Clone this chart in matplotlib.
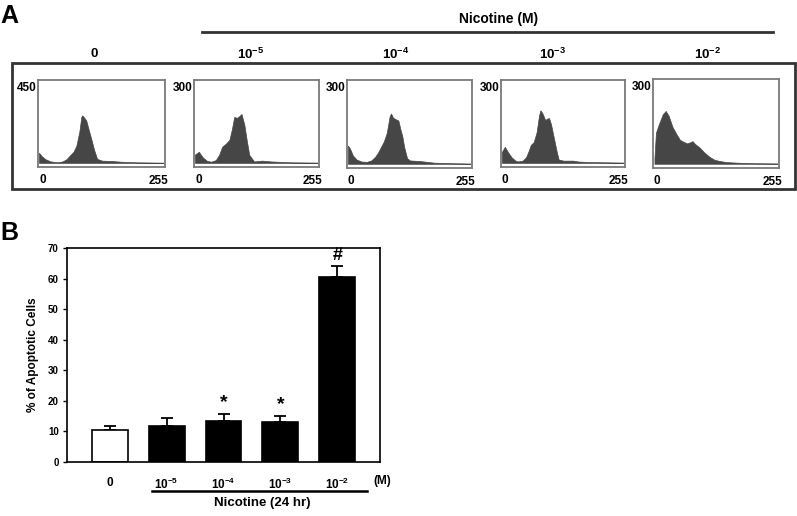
import matplotlib
matplotlib.use('Agg')
import matplotlib.pyplot as plt
from matplotlib.patches import Rectangle
from matplotlib.lines import Line2D

plt.rcParams['font.family'] = ['Liberation Sans', 'DejaVu Sans']
plt.rcParams['font.weight'] = 'bold'
plt.rcParams['axes.labelweight'] = 'bold'
plt.rcParams['mathtext.fontset'] = 'custom'
plt.rcParams['mathtext.rm'] = 'Liberation Sans:bold'
plt.rcParams['mathtext.bf'] = 'Liberation Sans:bold'
plt.rcParams['mathtext.default'] = 'bf'

# panel A: flow cytometry histograms (channel, count)
col_labels = ['0', '10$^{-5}$', '10$^{-4}$', '10$^{-3}$', '10$^{-2}$']
hist_ymax = [450, 300, 300, 300, 300]

ch_0 = [2, 8, 15, 25, 40, 50, 58, 64, 72, 78, 84, 88, 90, 94, 98, 103, 108, 114, 120, 130, 150, 170, 200, 255]
cnt_0 = [55, 35, 20, 8, 3, 8, 20, 38, 60, 93, 170, 250, 258, 245, 230, 180, 132, 70, 22, 12, 10, 6, 3, 1]

ch_5 = [2, 10, 18, 26, 35, 45, 52, 58, 66, 73, 78, 83, 89, 94, 98, 104, 109, 114, 124, 140, 160, 200, 255]
cnt_5 = [30, 40, 20, 8, 4, 10, 30, 58, 70, 83, 120, 166, 163, 170, 177, 137, 80, 29, 5, 8, 5, 2, 1]

ch_4 = [2, 6, 12, 20, 30, 41, 50, 58, 64, 70, 76, 82, 88, 91, 95, 100, 106, 110, 114, 118, 124, 130, 150, 160, 180, 220, 255]
cnt_4 = [65, 55, 30, 15, 8, 7, 12, 25, 40, 60, 80, 110, 170, 180, 165, 160, 155, 125, 100, 60, 20, 12, 10, 8, 4, 2, 1]

ch_3 = [2, 8, 14, 22, 30, 35, 45, 52, 58, 62, 68, 74, 79, 82, 86, 92, 96, 100, 104, 110, 116, 120, 130, 150, 160, 180, 220, 255]
cnt_3 = [40, 58, 40, 20, 8, 5, 8, 20, 45, 65, 75, 110, 170, 190, 180, 155, 160, 162, 140, 90, 40, 12, 8, 8, 5, 3, 2, 1]

ch_2 = [3, 6, 12, 20, 26, 32, 40, 48, 55, 62, 70, 76, 81, 86, 95, 105, 116, 126, 136, 150, 170, 200, 255]
cnt_2 = [20, 110, 140, 175, 187, 170, 130, 105, 85, 78, 72, 76, 80, 70, 58, 40, 24, 14, 10, 6, 4, 2, 1]

hist_ch = [ch_0, ch_5, ch_4, ch_3, ch_2]
hist_cnt = [cnt_0, cnt_5, cnt_4, cnt_3, cnt_2]

# panel B: % apoptotic cells
bar_labels = ['0', '10$^{-5}$', '10$^{-4}$', '10$^{-3}$', '10$^{-2}$']
bar_vals = [10.5, 11.8, 13.3, 13.0, 60.5]
bar_err = [1.2, 2.5, 2.5, 2.2, 3.5]
bar_marks = ['', '', '*', '*', '#']

W, H = 797, 516
fig = plt.figure(figsize=(W / 100, H / 100), dpi=100)


def fx(px):
    return px / W


def fy(py):
    return 1 - py / H


# ---- panel A ----
fig.text(fx(0), fy(16), 'A', fontsize=18, ha='left', va='center')
fig.text(fx(499), fy(19), 'Nicotine (M)', fontsize=10, ha='center', va='center')
fig.add_artist(Line2D([fx(202), fx(773)], [fy(32), fy(32)], color='#333333', lw=2))
fig.add_artist(Rectangle((fx(12), fy(189)), fx(795) - fx(12), (189 - 63) / H,
                         fill=False, edgecolor='#333333', lw=2))

label_x = [94, 251, 396, 553, 708]
boxes = [(38, 80, 165, 167), (194, 80, 319, 167), (347, 80, 472, 168),
         (501, 80, 625, 167), (653, 79, 779, 168)]

for i in range(5):
    x0, y0, x1, y1 = boxes[i]
    fig.text(fx(label_x[i]), fy(54), col_labels[i], fontsize=9.5, ha='center', va='center')
    ax = fig.add_axes([fx(x0), fy(y1), (x1 - x0) / W, (y1 - y0) / H])
    ax.fill_between(hist_ch[i], hist_cnt[i], 0, color='#464646', lw=0.5)
    ax.set_xlim(0, 258)
    ax.set_ylim(-0.05 * hist_ymax[i], hist_ymax[i])
    ax.set_xticks([])
    ax.set_yticks([])
    for s in ax.spines.values():
        s.set_color('#7a7a7a')
        s.set_linewidth(1.3)
    fig.text(fx(x0 - 1), fy(y0 + 8), str(hist_ymax[i]), fontsize=8.5, ha='right', va='center')
    fig.text(fx(x0 + 1), fy(y1 + 13), '0', fontsize=8.5, ha='left', va='center')
    fig.text(fx(x1 + 3), fy(y1 + 14), '255', fontsize=8.5, ha='right', va='center')

# ---- panel B ----
fig.text(fx(0), fy(233), 'B', fontsize=18, ha='left', va='center')
axb = fig.add_axes([fx(67), fy(462), 313 / W, 214 / H])
xs = list(range(len(bar_vals)))
colors = ['white'] + ['black'] * (len(bar_vals) - 1)
axb.bar(xs, bar_vals, width=0.63, color=colors, edgecolor='black', lw=1.2, zorder=2)
axb.errorbar(xs, bar_vals, yerr=[[0] * len(bar_err), bar_err], fmt='none',
             ecolor='black', elinewidth=1.3, capsize=4, capthick=1.3, zorder=1)
for i in range(len(bar_vals)):
    if bar_marks[i]:
        axb.text(xs[i], bar_vals[i] + bar_err[i] + 0.8, bar_marks[i],
                 fontsize=14 if bar_marks[i] == '*' else 13, ha='center', va='bottom')
axb.set_xlim(-0.75, 4.75)
axb.set_ylim(0, 70)
axb.set_yticks(range(0, 71, 10))
axb.set_xticks(xs)
axb.set_xticklabels(bar_labels, fontsize=8.5, fontweight='bold')
axb.set_yticklabels([str(v) for v in range(0, 71, 10)], fontsize=7, fontweight='bold')
axb.tick_params(axis='x', length=0, pad=11)
axb.tick_params(axis='y', length=3, width=1, pad=3)
for s in axb.spines.values():
    s.set_linewidth(1.2)
axb.set_ylabel('% of Apoptotic Cells', fontsize=8.5, fontweight='bold', labelpad=6)

fig.text(fx(382), fy(481), '(M)', fontsize=8.5, ha='center', va='center')
fig.add_artist(Line2D([fx(152), fx(367)], [fy(491), fy(491)], color='black', lw=1.8))
fig.text(fx(262), fy(503), 'Nicotine (24 hr)', fontsize=9.5, ha='center', va='center')

fig.savefig('out.png', dpi=100)
